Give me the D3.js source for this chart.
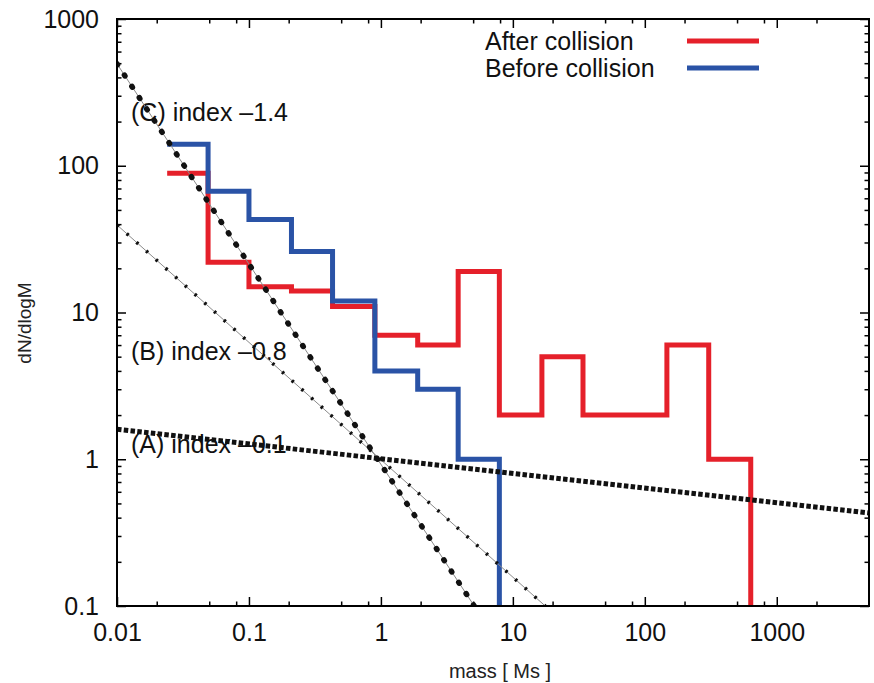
<!DOCTYPE html>
<html>
<head>
<meta charset="utf-8">
<script src="https://cdn.jsdelivr.net/npm/d3@7"></script>
<style>
  html, body { margin: 0; padding: 0; background: #fff; }
  svg { display: block; font-family: "Liberation Sans", Arial, Helvetica, sans-serif; }
</style>
</head>
<body>
<svg id="chart" width="874" height="683"></svg>
<script>
// bin edges of the mass histogram (Ms)
const binEdges = [0.024, 0.049, 0.1, 0.21, 0.43, 0.9, 1.9, 3.85, 7.9, 16.6, 34, 71, 147, 305, 635];

// dN/dlogM per bin
const afterCollision  = [89, 22, 15, 14, 11, 7, 6, 19, 2, 5, 2, 2, 6, 1];
const beforeCollision = [140, 67, 43, 26, 12, 4, 3, 1];

// power-law guide lines, two end points each [mass, dN/dlogM]
const lineA = [[0.01, 1.6], [5000, 0.43]];
const lineB = [[0.01, 39.5], [17.6, 0.1]];
const lineC = [[0.01, 495], [5.1, 0.1]];

const xTicks = [0.01, 0.1, 1, 10, 100, 1000];
const xTickLabels = ["0.01", "0.1", "1", "10", "100", "1000"];
const yTicks = [0.1, 1, 10, 100, 1000];
const yTickLabels = ["0.1", "1", "10", "100", "1000"];
const xMinorSteps = [2, 5, 8];
const yMinorSteps = [2, 3, 4, 5, 6, 7, 8, 9];

const legendNames = ["After collision", "Before collision"];
const guideLabels = ["(C) index \u20131.4", "(B) index \u20130.8", "(A) index \u20130.1"];

const RED = "#e5202a", BLUE = "#2a53a6";

const svg = d3.select("#chart");
const x = d3.scaleLog().domain([0.01, 5000]).range([117, 869]);
const y = d3.scaleLog().domain([0.1, 1000]).range([606, 19]);
const [x0, x1] = x.range(), [y0, y1] = y.range();

// minor tick positions
const xMinor = [];
xTicks.forEach(t => xMinorSteps.forEach(s => { if (t * s < 5000) xMinor.push(t * s); }));
const yMinor = [];
yTicks.slice(0, -1).forEach(t => yMinorSteps.forEach(s => yMinor.push(t * s)));

svg.append("clipPath").attr("id", "plot-clip")
  .append("rect").attr("x", x0).attr("y", y1).attr("width", x1 - x0).attr("height", y0 - y1);

// axes, ticks point inwards on all four sides
function styleAxis(g) {
  g.select(".domain").remove();
  g.selectAll(".tick line").attr("stroke", "#000").attr("stroke-width", 1.5);
  g.selectAll(".tick text").attr("fill", "#111").style("font-size", "25px");
}
svg.append("g").attr("transform", `translate(0,${y0})`)
  .call(d3.axisBottom(x).tickValues(xTicks).tickSizeInner(-9).tickSizeOuter(0).tickPadding(17)
    .tickFormat((d, i) => xTickLabels[i]))
  .call(styleAxis);
svg.append("g").attr("transform", `translate(0,${y0})`)
  .call(d3.axisBottom(x).tickValues(xMinor).tickSizeInner(-4.5).tickSizeOuter(0).tickFormat(""))
  .call(styleAxis);
svg.append("g").attr("transform", `translate(0,${y1})`)
  .call(d3.axisTop(x).tickValues(xTicks).tickSizeInner(-9).tickSizeOuter(0).tickFormat(""))
  .call(styleAxis);
svg.append("g").attr("transform", `translate(0,${y1})`)
  .call(d3.axisTop(x).tickValues(xMinor).tickSizeInner(-4.5).tickSizeOuter(0).tickFormat(""))
  .call(styleAxis);
svg.append("g").attr("transform", `translate(${x0},0)`)
  .call(d3.axisLeft(y).tickValues(yTicks).tickSizeInner(-9).tickSizeOuter(0).tickPadding(18)
    .tickFormat((d, i) => yTickLabels[i]))
  .call(styleAxis);
svg.append("g").attr("transform", `translate(${x0},0)`)
  .call(d3.axisLeft(y).tickValues(yMinor).tickSizeInner(-4.5).tickSizeOuter(0).tickFormat(""))
  .call(styleAxis);
svg.append("g").attr("transform", `translate(${x1},0)`)
  .call(d3.axisRight(y).tickValues(yTicks).tickSizeInner(-9).tickSizeOuter(0).tickFormat(""))
  .call(styleAxis);
svg.append("g").attr("transform", `translate(${x1},0)`)
  .call(d3.axisRight(y).tickValues(yMinor).tickSizeInner(-4.5).tickSizeOuter(0).tickFormat(""))
  .call(styleAxis);

// axis titles
svg.append("text").attr("x", 500).attr("y", 678).attr("text-anchor", "middle")
  .style("font-size", "20px").attr("fill", "#222").text("mass [ Ms ]");
svg.append("text").attr("transform", "translate(31,323) rotate(-90)").attr("text-anchor", "middle")
  .style("font-size", "19px").attr("fill", "#222").text("dN/dlogM");

// guide line labels (drawn under the lines)
const labelY = [121, 360, 453];
svg.append("g").selectAll("text").data(guideLabels).join("text")
  .attr("x", 131).attr("y", (d, i) => labelY[i])
  .style("font-size", "25px").attr("fill", "#111").text(d => d);

// step histograms
function stepPoints(values) {
  const pts = [];
  values.forEach((v, i) => {
    pts.push([binEdges[i], v]);
    pts.push([binEdges[i + 1], v]);
  });
  pts.push([binEdges[values.length], 0.05]); // drop off the bottom
  return pts;
}
const line = d3.line().x(d => x(d[0])).y(d => y(d[1]));
const plot = svg.append("g").attr("clip-path", "url(#plot-clip)");

plot.append("path").datum(stepPoints(afterCollision))
  .attr("fill", "none").attr("stroke", RED).attr("stroke-width", 5)
  .attr("stroke-linejoin", "miter").attr("d", line);
plot.append("path").datum(stepPoints(beforeCollision))
  .attr("fill", "none").attr("stroke", BLUE).attr("stroke-width", 5)
  .attr("stroke-linejoin", "miter").attr("d", line);

// power-law guides
[lineB, lineC].forEach(pts => {
  plot.append("path").datum(pts).attr("fill", "none")
    .attr("stroke", "#8a8a8a").attr("stroke-width", 1).attr("d", line);
});
plot.append("path").datum(lineB).attr("fill", "none")
  .attr("stroke", "#111").attr("stroke-width", 3.5).attr("stroke-dasharray", "2.5 10.5")
  .attr("d", line);
plot.append("path").datum(lineC).attr("fill", "none")
  .attr("stroke", "#111").attr("stroke-width", 5.5).attr("stroke-linecap", "round")
  .attr("stroke-dasharray", "1 12.5").attr("d", line);
plot.append("path").datum(lineA).attr("fill", "none")
  .attr("stroke", "#111").attr("stroke-width", 5).attr("stroke-dasharray", "4.5 2.3")
  .attr("d", line);

// frame
svg.append("rect").attr("x", x0).attr("y", y1).attr("width", x1 - x0).attr("height", y0 - y1)
  .attr("fill", "none").attr("stroke", "#000").attr("stroke-width", 2);

// legend
const legend = svg.append("g");
const legendColors = [RED, BLUE];
legendNames.forEach((name, i) => {
  legend.append("text").attr("x", 485).attr("y", 50 + i * 27)
    .style("font-size", "25px").attr("fill", "#111").text(name);
  legend.append("line").attr("x1", 687).attr("x2", 759)
    .attr("y1", 41 + i * 27).attr("y2", 41 + i * 27)
    .attr("stroke", legendColors[i]).attr("stroke-width", 5);
});
</script>
</body>
</html>
